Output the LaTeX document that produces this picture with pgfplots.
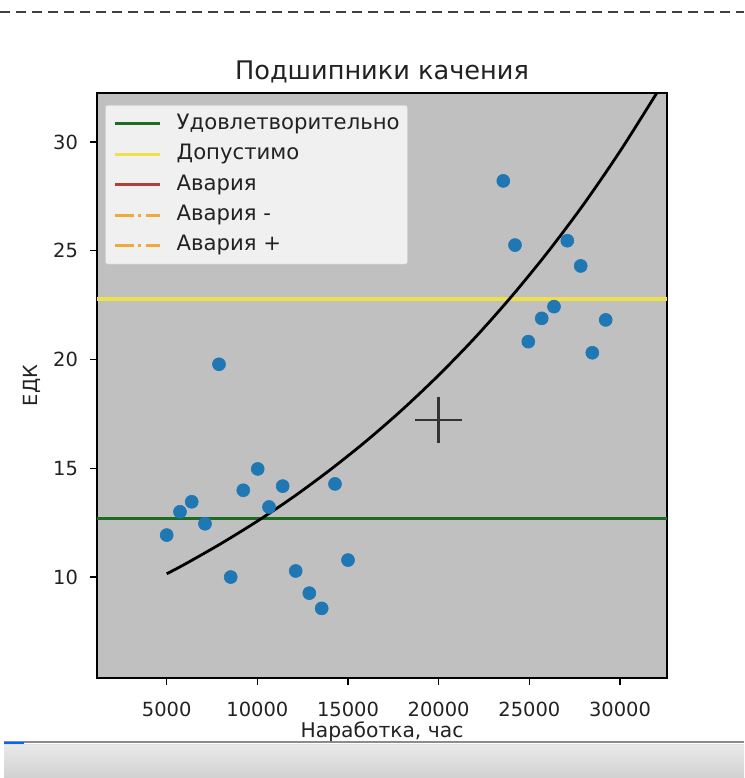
\documentclass[border=0pt]{standalone}
\usepackage{fontspec}
\setmainfont{DejaVu Sans}
\usepackage{pgfplots}
\pgfplotsset{compat=1.18}
\definecolor{axbg}{HTML}{C0C0C0}
\definecolor{mplblue}{HTML}{1F77B4}
\definecolor{okgreen}{HTML}{1E6B23}
\definecolor{warnyellow}{HTML}{EEE04A}
\definecolor{alarmred}{HTML}{B0403A}
\definecolor{alarmorange}{HTML}{F2A93B}
\definecolor{txt}{HTML}{222222}
\begin{document}
\begin{tikzpicture}
\path[use as bounding box] (0pt,0pt) rectangle (558pt,583.5pt);
% screenshot frame decorations
\begin{scope}[x=0.75pt,y=0.75pt]
\draw[color=black!75, line width=1.5pt, dash pattern=on 7.5pt off 4.5pt] (0,766) -- (744,766);
\fill[top color=white!91!black, bottom color=white!82!black] (4,0) rectangle (744,32);
\draw[color=black!45, line width=1.1pt] (4,36) -- (744,36);
\draw[color=white!88!black, line width=0.8pt] (4,33.5) -- (744,33.5);
\draw[color=blue!60!cyan, line width=1.5pt] (4,35) -- (24,35);
\end{scope}
\begin{axis}[
  at={(72.75pt,75pt)}, anchor=south west,
  scale only axis, width=427.5pt, height=438.75pt,
  xmin=1156, xmax=32592, ymin=5.36, ymax=32.25,
  axis background/.style={fill=axbg},
  axis line style={line width=1pt, black},
  xtick pos=lower, ytick pos=left,
  tick align=outside, tick style={black, line width=0.9pt}, major tick length=5.1pt,
  xtick={5000,10000,15000,20000,25000,30000}, ytick={10,15,20,25,30},
  scaled ticks=false,
  /pgf/number format/assume math mode=true,
  /pgf/number format/set thousands separator={},
  tick label style={font=\fontsize{14.6}{17}\selectfont, text=txt},
  xticklabel style={anchor=base, inner sep=0pt, yshift=-23.5pt},
  yticklabel style={anchor=east, inner sep=0pt, xshift=-9pt},
  title={Подшипники качения},
  title style={font=\fontsize{19.2}{22}\selectfont, text=txt, at={(0.5,1)}, anchor=base, yshift=4pt},
  xlabel={Наработка, час},
  xlabel style={font=\fontsize{15.2}{18}\selectfont, text=txt, at={(0.5,0)}, anchor=base, yshift=-45pt},
  ylabel={ЕДК},
  ylabel style={font=\fontsize{14.6}{17}\selectfont, text=txt, at={(0,0.5)}, anchor=center, yshift=48.75pt},
  legend cell align=left,
  legend image code/.code={\draw[#1] (0pt,0pt) -- (33.75pt,0pt);},
  legend style={at={(0.014,0.9795)}, anchor=north west, fill=white!94!black, draw=white!80!black,
    rounded corners=2pt, font=\fontsize{15.9}{18}\selectfont, text=txt,
    inner xsep=6pt, inner ysep=7pt, row sep=8.8pt, column sep=11.25pt,
    nodes={inner sep=0pt, text height=11pt, text depth=3pt}},
]
\addplot[okgreen, line width=2.2pt] coordinates {(1156,12.71) (32592,12.71)};
\addlegendentry{Удовлетворительно}
\addplot[warnyellow, line width=2.6pt] coordinates {(1156,22.78) (32592,22.78)};
\addlegendentry{Допустимо}
\addlegendimage{alarmred, line width=2.2pt}
\addlegendentry{Авария}
\addlegendimage{alarmorange, line width=2.2pt, dash pattern=on 13.9pt off 3.5pt on 2.2pt off 3.5pt}
\addlegendentry{Авария -}
\addlegendimage{alarmorange, line width=2.2pt, dash pattern=on 13.9pt off 3.5pt on 2.2pt off 3.5pt}
\addlegendentry{Авария +}
\addplot[forget plot, only marks, mark=*, mark size=4.9pt, mark options={fill=mplblue, draw=mplblue}] coordinates {
(5000,11.93) (5733,13.00) (6379,13.46) (7112,12.45) (7884,19.78) (8530,10.00)
(9224,13.99) (10019,14.97) (10642,13.22) (11397,14.18) (12114,10.28) (12865,9.26)
(13548,8.56) (14282,14.28) (14999,10.78)
(23564,28.21) (24209,25.26) (24943,20.82) (25682,21.89) (26360,22.43) (27094,25.46)
(27832,24.30) (28472,20.31) (29211,21.82)};
\addplot[forget plot, black, line width=2.1pt, smooth] coordinates {
(5000,10.15) (6000,10.59) (8000,11.54) (10000,12.57) (12000,13.69) (14000,14.92)
(16000,16.25) (18000,17.70) (20000,19.28) (22000,21.00) (24000,22.88) (26000,24.92)
(28000,27.14) (30000,29.57) (32000,32.21) (32100,32.35)};
\addplot[forget plot, only marks, mark=+, mark size=17.6pt, mark options={draw=black!80, line width=1.9pt}] coordinates {(20000,17.22)};
\end{axis}
\end{tikzpicture}
\end{document}
